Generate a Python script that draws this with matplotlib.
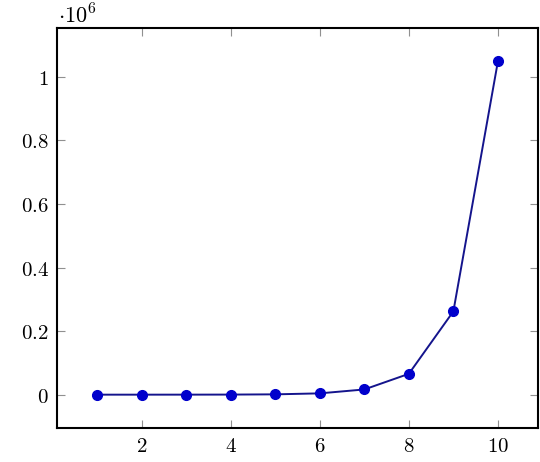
import numpy as np
import matplotlib
matplotlib.use('Agg')
import matplotlib.pyplot as plt
from matplotlib.ticker import FuncFormatter

x = [1, 2, 3, 4, 5, 6, 7, 8, 9, 10]
y = [4, 16, 64, 256, 1024, 4096, 16384, 65536, 262144, 1048576]

plt.rcParams['mathtext.fontset'] = 'cm'

fig = plt.figure(figsize=(5.4, 4.62), dpi=100)
ax = fig.add_axes([57/540, 34/462, 481/540, 400/462])

ax.plot(x, y, color='#14148c', lw=1.4, marker='o', markersize=7,
        markerfacecolor='#0000cc', markeredgecolor='#0000cc', zorder=3)

ax.set_xlim(0.1, 10.9)
ax.set_ylim(-104853, 1153433)
ax.set_xticks([2, 4, 6, 8, 10])
ax.set_yticks([0, 0.2e6, 0.4e6, 0.6e6, 0.8e6, 1e6])
ax.xaxis.set_major_formatter(FuncFormatter(lambda v, p: f'${v:g}$'))
ax.yaxis.set_major_formatter(FuncFormatter(lambda v, p: f'${v/1e6:g}$'))

ax.tick_params(direction='in', length=6, width=0.8, color='#909090',
               labelsize=15, top=True, right=True, pad=6)
for s in ax.spines.values():
    s.set_linewidth(1.5)

fig.text(58/540, 1 - 15/462, r'$\cdot 10^{6}$', fontsize=16, va='center', ha='left')

fig.savefig('out.png', dpi=100)
